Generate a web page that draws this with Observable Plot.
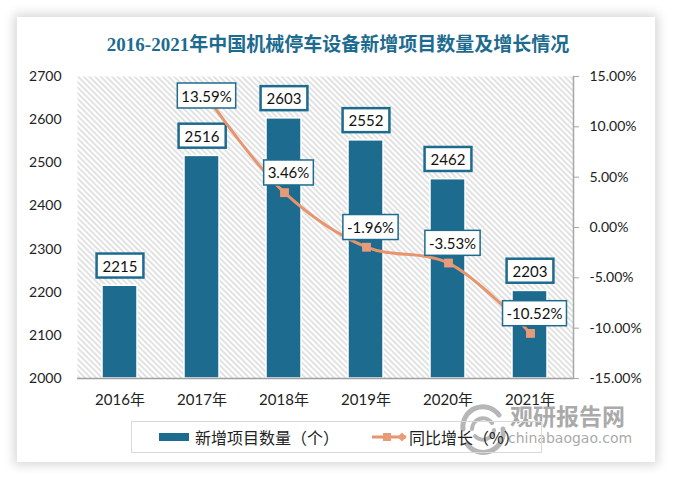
<!DOCTYPE html>
<html>
<head>
<meta charset="utf-8">
<script src="https://cdn.jsdelivr.net/npm/d3@7"></script>
<script src="https://cdn.jsdelivr.net/npm/@observablehq/plot@0.6"></script>
<style>
  body { margin: 0; width: 676px; height: 479px; background: #fff; position: relative; overflow: hidden;
         font-family: Lato, "Noto Sans CJK SC", sans-serif; }
  #card { position: absolute; left: 17px; top: 17px; width: 638px; height: 445px; background: #fff;
          box-shadow: 0 0 10px 3px rgba(0,0,0,0.16); }
  .layer { position: absolute; left: 0; top: 0; }
  #title { position: absolute; left: 0; top: 31px; width: 676px; text-align: center;
           font: bold 19px "Liberation Serif", "Noto Sans CJK SC", serif; color: #1d6b8f; line-height: 28px; }
  #legend { position: absolute; left: 131px; top: 421px; width: 409px; height: 30px; border: 1px solid #d9d9d9; }
  .lg-text { position: absolute; font: 16px "Noto Sans CJK SC", sans-serif; color: #222; line-height: 20px; top: 427px; white-space: nowrap; }
  #wm { position: absolute; left: 455px; top: 401px; width: 190px; height: 55px; opacity: 0.72; }
</style>
</head>
<body>
<div id="card"></div>
<div id="wm">
  <svg width="55" height="55" style="position:absolute;left:0;top:0">
    <g fill="none" stroke="#9a9a9a" stroke-linecap="round">
      <path d="M 8 28 A 20 20 0 0 1 44 14" stroke-width="5"/>
      <path d="M 48 28 A 20 20 0 0 1 12 43" stroke-width="5"/>
      <path d="M 17 28 A 11 11 0 0 1 37 22" stroke-width="4"/>
      <path d="M 39 29 A 11 11 0 0 1 20 35" stroke-width="4"/>
    </g>
  </svg>
  <div style="position:absolute;left:55px;top:1px;font:bold 23px 'Noto Sans CJK SC',sans-serif;color:#8a8a8a;line-height:26px;">观研报告网</div>
  <div style="position:absolute;left:53px;top:28px;font:14px 'DejaVu Sans',sans-serif;color:#8a8a8a;line-height:18px;">chinabaogao.com</div>
</div>
<div id="title">2016-2021年中国机械停车设备新增项目数量及增长情况</div>
<div id="chart1" class="layer"></div>
<div id="chart2" class="layer"></div>
<div id="legend"></div>
<div style="position:absolute;left:159px;top:433px;width:30px;height:8px;background:#1d6b8f;"></div>
<div class="lg-text" style="left:195px;">新增项目数量（个）</div>
<svg style="position:absolute;left:370px;top:429px" width="40" height="16">
  <line x1="2" y1="8" x2="36" y2="8" stroke="#e8956d" stroke-width="3"/>
  <rect x="13" y="4" width="8" height="8" fill="#e89b78"/>
  <path d="M 32 3.5 L 36.5 8 L 32 12.5 L 27.5 8 Z" fill="#e89b78"/>
</svg>
<div class="lg-text" style="left:409px;">同比增长（%）</div>

<script>
// ---- data ----
const years = ["2016年", "2017年", "2018年", "2019年", "2020年", "2021年"];
const counts = [2215, 2516, 2603, 2552, 2462, 2203];
const growth = [null, 13.59, 3.46, -1.96, -3.53, -10.52];
const countTicks = [2000, 2100, 2200, 2300, 2400, 2500, 2600, 2700];
const growthTicks = [-15, -10, -5, 0, 5, 10, 15];

const barData = years.map((y, i) => ({year: y, count: counts[i]}));
const lineData = years.map((y, i) => ({year: y, g: growth[i]})).filter(d => d.g != null);

const BLUE = "#1d6b8f";
const ORANGE = "#e8956d";
const common = {
  width: 676, height: 420,
  marginTop: 76, marginBottom: 42, marginLeft: 77, marginRight: 103,
  style: {background: "transparent", fontFamily: "Lato, 'Noto Sans CJK SC', sans-serif", color: "#222", overflow: "visible"}
};
const xScale = {domain: years, paddingInner: 0.57, paddingOuter: 0.285, label: null};

const p1 = Plot.plot({
  ...common,
  x: xScale,
  y: {domain: [2000, 2700], label: null},
  marks: [
    Plot.frame({fill: "url(#hatch)", stroke: "none"}),
    Plot.barY(barData, {x: "year", y1: 2000, y2: "count", fill: BLUE, stroke: "#fff", strokeWidth: 1.5,
      style: "filter: drop-shadow(2px 1px 2px rgba(0,0,0,0.35))"}),
    Plot.ruleY([2000], {stroke: "#a0a0a0", strokeWidth: 1.5}),
    Plot.axisY({ticks: countTicks, tickSize: 0, tickPadding: 16, label: null, fontSize: 14, tickFormat: d => String(d)}),
    Plot.axisX({tickSize: 0, tickPadding: 16, label: null, fontSize: 15}),
    Plot.text(barData, {x: "year", y: "count", text: d => String(d.count), dy: -19, fontSize: 15, fill: "#111"})
  ]
});

const p2 = Plot.plot({
  ...common,
  x: {...xScale, axis: null},
  y: {domain: [-15, 15], label: null},
  marks: [
    Plot.axisY({anchor: "right", ticks: growthTicks, tickSize: 5, tickPadding: 11, label: null, fontSize: 14,
      stroke: "#a6a6a6", tickFormat: d => d.toFixed(2) + "%"}),
    Plot.frame({anchor: "right", stroke: "#a6a6a6", strokeWidth: 1.5}),
    Plot.line(lineData, {x: "year", y: "g", curve: "catmull-rom", stroke: ORANGE, strokeWidth: 3}),
    Plot.dot(lineData, {x: "year", y: "g", symbol: "square", r: 5, fill: "#e89b78", stroke: "none"}),
    Plot.text(lineData.slice(0, 1), {x: "year", y: "g", text: d => d.g.toFixed(2) + "%", dy: 6, dx: 4, fontSize: 15, fill: "#111"}),
    Plot.text(lineData.slice(1), {x: "year", y: "g", text: d => d.g.toFixed(2) + "%", dy: -19, dx: 4, fontSize: 15, fill: "#111"})
  ]
});

document.getElementById("chart1").appendChild(p1);
document.getElementById("chart2").appendChild(p2);

// hatch pattern
const defs = d3.select(p1).insert("defs", ":first-child");
const pat = defs.append("pattern").attr("id", "hatch").attr("patternUnits", "userSpaceOnUse")
  .attr("width", 4).attr("height", 4).attr("patternTransform", "rotate(-45)");
pat.append("rect").attr("width", 4).attr("height", 4).attr("fill", "#fff");
pat.append("line").attr("x1", 1).attr("y1", 0).attr("x2", 1).attr("y2", 4).attr("stroke", "#cfcfcf").attr("stroke-width", 1.2);

// label boxes
function boxLabels(svg, padX, padY, sw) {
  d3.select(svg).selectAll('g[aria-label="text"] text').each(function() {
    const b = this.getBBox();
    const r = document.createElementNS("http://www.w3.org/2000/svg", "rect");
    r.setAttribute("x", b.x - padX);
    r.setAttribute("y", b.y - padY);
    r.setAttribute("width", b.width + 2 * padX);
    r.setAttribute("height", b.height + 2 * padY);
    r.setAttribute("fill", "#fff");
    r.setAttribute("stroke", BLUE);
    r.setAttribute("stroke-width", sw);
    const t = this.getAttribute("transform");
    if (t) r.setAttribute("transform", t);
    this.parentNode.insertBefore(r, this);
  });
}
boxLabels(p1, 6, 3, 2.5);
boxLabels(p2, 4, 3.5, 1.5);
</script>
</body>
</html>
